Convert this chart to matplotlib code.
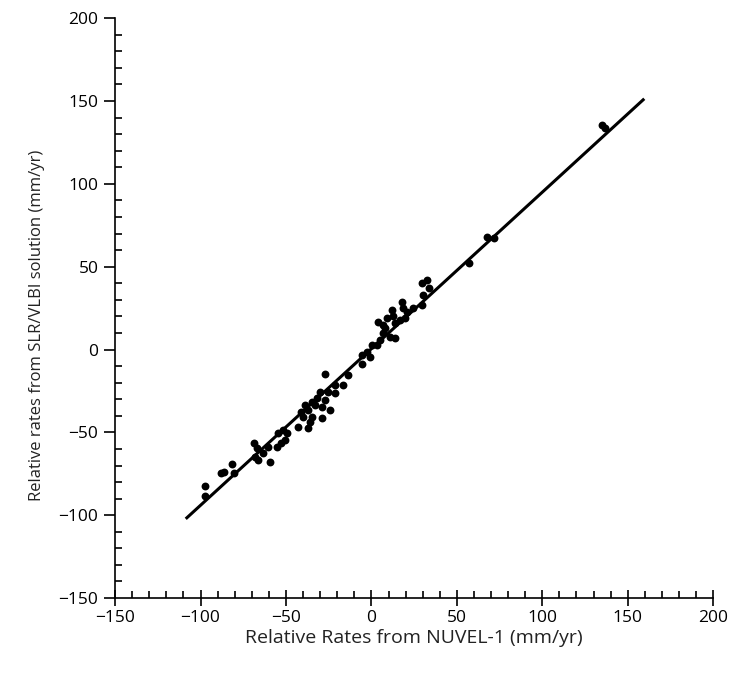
import numpy as np
import matplotlib.pyplot as plt
from matplotlib.ticker import MultipleLocator

# rates (mm/yr)
nuvel = [-97.1, -97.1, -87.8, -86.0, -81.3, -80.7, -69.0, -66.7, -67.9, -66.1,
         -63.2, -59.1, -60.8, -55.0, -54.4, -51.5, -49.2, -50.3, -53.2, -42.7,
         -36.9, -35.7, -34.5, -28.7, -41.5, -38.6, -34.5, -31.6, -28.7, -24.0,
         -29.8, -21.1, -37.4, -32.8, -39.8, -25.7, -26.9, -21.1, -16.4, -13.5,
         -26.9, -5.3, -5.3, -0.6, -2.3, 0.6, 3.5, 5.3, 7.0, 11.1,
         14.0, 4.1, 8.2, 12.3, 12.9, 14.0, 17.0, 18.1, 21.1, 24.6,
         29.8, 32.8, 33.4, 29.8, 30.4, 9.4, 7.0, 19.9, 18.7, 57.3,
         67.9, 72.0, 135.2, 136.9]
slr_vlbi = [-82.4, -88.4, -74.5, -73.9, -69.1, -74.5, -56.5, -59.5, -64.9, -66.8,
            -62.6, -68.0, -58.9, -58.9, -50.5, -48.6, -50.5, -54.7, -56.5, -46.8,
            -47.4, -43.8, -40.8, -41.4, -37.8, -33.6, -31.7, -29.3, -34.8, -36.6,
            -25.7, -26.3, -36.6, -33.6, -40.8, -25.7, -30.5, -21.5, -21.5, -15.4,
            -14.8, -8.8, -3.4, -4.6, -1.6, 2.7, 2.7, 5.7, 9.9, 7.5,
            6.9, 16.5, 12.9, 23.8, 20.2, 16.0, 17.7, 28.6, 22.6, 25.0,
            40.1, 41.9, 37.1, 26.8, 32.8, 19.0, 14.7, 19.0, 25.0, 52.1,
            67.8, 67.2, 135.4, 133.6]

# fitted line
fit_range = [-108, 159]
fit_slope = 0.945
fit_intercept = 0.5

plt.rcParams['font.family'] = ['Open Sans', 'DejaVu Sans']

fig = plt.figure(figsize=(7.33, 6.75), dpi=100)
ax = fig.add_axes([0.157, 0.114, 0.816, 0.859])

fx = np.array(fit_range)
ax.plot(fx, fit_slope * fx + fit_intercept, c='black', lw=2.2, zorder=2)
ax.scatter(nuvel, slr_vlbi, c='black', s=32, linewidths=0, zorder=3)

ax.set_xlim(-150, 200)
ax.set_ylim(-150, 200)
ax.spines['top'].set_visible(False)
ax.spines['right'].set_visible(False)
for s in ['left', 'bottom']:
    ax.spines[s].set_linewidth(1.2)

ax.xaxis.set_major_locator(MultipleLocator(50))
ax.xaxis.set_minor_locator(MultipleLocator(10))
ax.yaxis.set_major_locator(MultipleLocator(50))
ax.yaxis.set_minor_locator(MultipleLocator(10))
ax.tick_params(axis='x', which='major', direction='inout', length=11, width=1.2, labelsize=12.5, pad=3)
ax.tick_params(axis='y', which='major', direction='out', length=8, width=1.2, labelsize=12.5, pad=4)
ax.tick_params(which='minor', direction='in', length=5, width=1.2)

ax.set_xlabel('Relative Rates from NUVEL-1 (mm/yr)', fontsize=14, labelpad=2, color='#222222')
ax.set_ylabel('Relative rates from SLR/VLBI solution (mm/yr)', fontsize=12, color='#222222')
ax.yaxis.set_label_coords(-0.117, 0.47)

fig.savefig('out.png', dpi=100)
